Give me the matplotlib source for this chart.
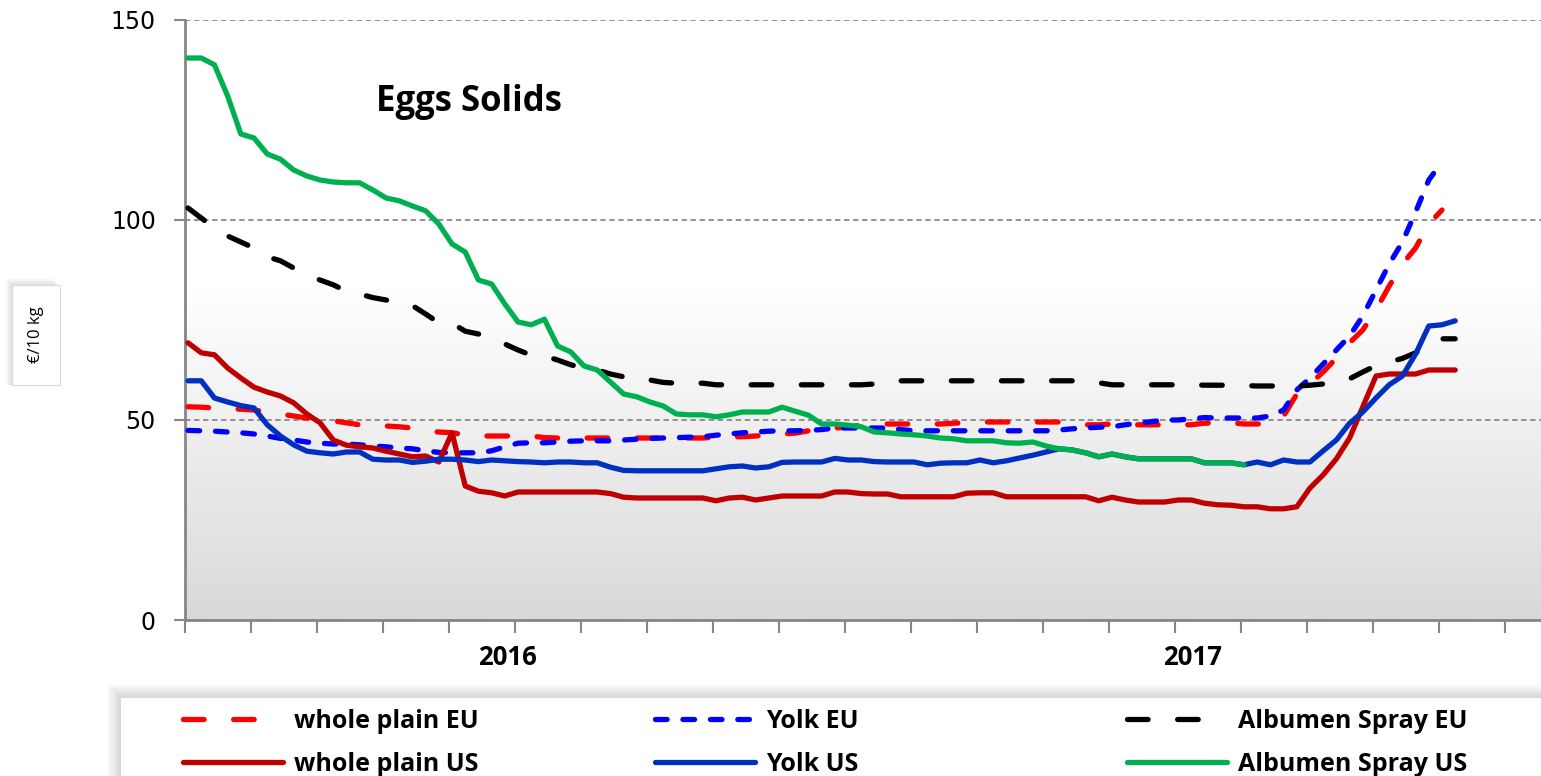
import numpy as np
import matplotlib
matplotlib.use("Agg")
import matplotlib.pyplot as plt
from matplotlib.patches import Rectangle

# weekly prices, EUR per 10 kg
whole_plain_eu = [53.3, 53.2, 53.0, 52.8, 52.7, 52.5, 52.0, 51.5, 51.0, 50.5,
                  50.0, 49.8, 49.3, 48.8, 48.6, 48.5, 48.3, 48.0, 47.2, 47.0,
                  46.8, 46.3, 46.0, 46.0, 46.0, 46.0, 46.0, 45.6, 45.5, 45.5,
                  45.5, 45.5, 45.5, 45.5, 45.5, 45.5, 45.5, 45.5, 45.5, 45.5,
                  45.7, 45.8, 45.8, 46.0, 46.2, 46.5, 46.7, 47.3, 47.9, 48.0,
                  48.2, 48.7, 49.0, 49.0, 49.0, 49.0, 49.0, 49.0, 49.2, 49.3,
                  49.5, 49.5, 49.5, 49.5, 49.5, 49.5, 49.5, 49.2, 48.8, 48.8,
                  49.0, 48.8, 48.8, 48.8, 48.8, 48.8, 48.8, 49.2, 49.3, 49.3,
                  49.0, 49.0, 49.2, 51.0, 56.5, 59.0, 62.0, 65.5, 69.3, 72.5,
                  77.5, 83.5, 89.0, 93.0, 99.0, 102.5]

yolk_eu = [47.4, 47.3, 47.2, 47.0, 46.8, 46.5, 46.0, 45.4, 45.0, 44.5,
           44.2, 44.0, 44.0, 43.8, 43.5, 43.3, 43.0, 42.8, 42.3, 41.9,
           41.8, 41.8, 41.8, 42.3, 43.3, 44.2, 44.3, 44.3, 44.5, 44.7,
           44.8, 44.8, 44.8, 45.0, 45.2, 45.4, 45.5, 45.6, 45.7, 45.8,
           46.2, 46.5, 46.8, 47.0, 47.2, 47.3, 47.3, 47.4, 47.6, 48.0,
           48.0, 48.0, 48.0, 48.0, 47.6, 47.3, 47.3, 47.3, 47.3, 47.3,
           47.3, 47.3, 47.3, 47.3, 47.3, 47.3, 47.5, 47.8, 48.0, 48.2,
           48.3, 48.8, 49.2, 49.6, 50.0, 50.0, 50.3, 50.6, 50.5, 50.5,
           50.5, 50.5, 51.0, 52.5, 57.5, 60.5, 64.0, 67.5, 71.0, 76.0,
           82.5, 89.0, 94.5, 102.0, 110.0, 114.5]

albumen_eu = [103.0, 100.5, 98.0, 96.0, 94.5, 93.0, 90.8, 89.8, 88.0, 86.3,
              85.0, 83.8, 82.2, 81.5, 80.6, 80.0, 79.3, 78.6, 76.5, 74.3,
              74.2, 72.2, 71.5, 70.3, 69.0, 67.5, 66.2, 66.0, 65.0, 63.8,
              63.0, 62.5, 61.5, 60.8, 60.8, 60.0, 59.4, 59.2, 59.2, 59.2,
              58.8, 58.8, 58.8, 58.8, 58.8, 58.8, 58.8, 58.8, 58.8, 58.8,
              58.8, 58.8, 59.0, 59.8, 59.8, 59.8, 59.8, 59.8, 59.8, 59.8,
              59.8, 59.8, 59.8, 59.8, 59.8, 59.8, 59.8, 59.8, 59.8, 59.3,
              58.8, 58.8, 58.8, 58.8, 58.8, 58.8, 58.8, 58.7, 58.7, 58.7,
              58.6, 58.5, 58.5, 58.5, 58.5, 58.7, 59.0, 59.6, 60.3, 62.0,
              63.6, 64.5, 65.4, 66.8, 68.5, 70.3, 70.3]

whole_plain_us = [69.3, 66.8, 66.3, 63.0, 60.5, 58.2, 57.0, 56.0, 54.3, 51.5,
                  49.3, 45.0, 43.7, 43.3, 43.0, 42.2, 41.5, 40.8, 41.0, 39.5,
                  46.8, 33.5, 32.2, 31.8, 31.0, 32.0, 32.0, 32.0, 32.0, 32.0,
                  32.0, 32.0, 31.6, 30.7, 30.5, 30.5, 30.5, 30.5, 30.5, 30.5,
                  29.8, 30.5, 30.7, 30.0, 30.5, 31.0, 31.0, 31.0, 31.0, 32.0,
                  32.0, 31.6, 31.5, 31.5, 30.8, 30.8, 30.8, 30.8, 30.8, 31.7,
                  31.8, 31.8, 30.8, 30.8, 30.8, 30.8, 30.8, 30.8, 30.8, 29.8,
                  30.7, 30.0, 29.5, 29.5, 29.5, 30.0, 30.0, 29.2, 28.8, 28.7,
                  28.3, 28.3, 27.8, 27.8, 28.3, 33.0, 36.3, 40.3, 45.5, 53.3,
                  61.0, 61.5, 61.5, 61.5, 62.5, 62.5, 62.5]

yolk_us = [59.8, 59.8, 55.5, 54.5, 53.6, 53.0, 48.8, 46.0, 43.8, 42.2,
           41.8, 41.5, 42.0, 42.0, 40.2, 40.0, 40.0, 39.4, 39.7, 40.2,
           40.2, 40.0, 39.6, 40.0, 39.8, 39.6, 39.5, 39.3, 39.5, 39.5,
           39.3, 39.3, 38.2, 37.4, 37.3, 37.3, 37.3, 37.3, 37.3, 37.3,
           37.8, 38.3, 38.5, 38.0, 38.3, 39.4, 39.5, 39.5, 39.5, 40.4,
           40.0, 40.0, 39.6, 39.5, 39.5, 39.5, 38.8, 39.2, 39.3, 39.3,
           40.0, 39.3, 39.8, 40.5, 41.2, 42.0, 42.8, 42.5, 41.8, 40.8,
           41.5, 40.8, 40.3, 40.3, 40.3, 40.3, 40.3, 39.3, 39.3, 39.3,
           38.8, 39.5, 38.8, 40.0, 39.5, 39.5, 42.3, 45.0, 49.2, 52.0,
           55.5, 58.8, 61.0, 66.5, 73.5, 73.8, 74.8]

albumen_us = [140.5, 140.5, 138.8, 131.0, 121.5, 120.5, 116.5, 115.2, 112.5, 111.0,
              110.0, 109.5, 109.3, 109.3, 107.5, 105.5, 104.8, 103.5, 102.3, 99.0,
              94.0, 92.0, 85.0, 84.0, 79.0, 74.5, 73.8, 75.2, 68.5, 67.0,
              63.5, 62.5, 59.5, 56.5, 55.8, 54.5, 53.5, 51.5, 51.3, 51.3,
              50.8, 51.3, 52.0, 52.0, 52.0, 53.2, 52.2, 51.2, 49.0, 49.0,
              48.7, 48.3, 47.0, 46.8, 46.5, 46.3, 46.0, 45.5, 45.3, 44.8,
              44.8, 44.8, 44.3, 44.2, 44.5, 43.5, 42.8, 42.5, 41.8, 40.8,
              41.5, 40.8, 40.3, 40.3, 40.3, 40.3, 40.3, 39.3, 39.3, 39.3,
              38.8]

series_labels = ["whole plain EU", "Yolk EU", "Albumen Spray EU",
                 "whole plain US", "Yolk US", "Albumen Spray US"]
year_labels = ["2016", "2017"]
year_label_weeks = [24.2, 76.1]
y_ticks = [0, 50, 100, 150]

TEXT_FONT = ["Open Sans", "DejaVu Sans"]
LW = 3.8


def draw_background(ax, x0, x1):
    # white at the top, fading to light grey towards the axis
    t = np.linspace(0, 1, 300)
    shade = np.where(t < 0.45, 1.0, 1.0 - (t - 0.45) / 0.55 * (38 / 255))
    img = np.repeat(shade[:, None], 2, axis=1)
    rgb = np.dstack([img, img, img])
    ax.imshow(rgb, extent=[x0, x1, 0, 150], aspect="auto", origin="upper",
              zorder=0, interpolation="bilinear")


def shadow_box(fig, x, y, w, h, offsets):
    # soft grey shadow, built from stacked translucent rectangles
    for k in offsets:
        fig.add_artist(Rectangle((x - k / 1541, y), w, h + k / 776,
                                 transform=fig.transFigure, facecolor="#000000",
                                 alpha=0.035, edgecolor="none", zorder=1))
    fig.add_artist(Rectangle((x, y), w, h, transform=fig.transFigure,
                             facecolor="white", edgecolor="#d9d9d9", lw=0.8, zorder=2))


def main():
    fig = plt.figure(figsize=(15.41, 7.76), dpi=100)
    ax = fig.add_axes([185 / 1541, 156 / 776, 1356 / 1541, 600 / 776])

    x_lo, x_hi = -0.23, 102.5
    draw_background(ax, x_lo, x_hi)

    long_dash = (3.9, 5.6)
    short_dash = (2.2, 3.0)
    styles = {
        "whole plain EU": dict(color="#ff0000", dashes=long_dash),
        "whole plain US": dict(color="#c00000"),
        "Yolk EU": dict(color="#0000ff", dashes=short_dash),
        "Yolk US": dict(color="#0030c0"),
        "Albumen Spray EU": dict(color="#000000", dashes=long_dash),
        "Albumen Spray US": dict(color="#00b050"),
    }
    values = {
        "whole plain EU": whole_plain_eu,
        "Yolk EU": yolk_eu,
        "Albumen Spray EU": albumen_eu,
        "whole plain US": whole_plain_us,
        "Yolk US": yolk_us,
        "Albumen Spray US": albumen_us,
    }

    handles = {}
    for i, name in enumerate(series_labels):
        y = values[name]
        x = np.arange(len(y))
        line, = ax.plot(x, y, lw=LW, solid_capstyle="round", dash_capstyle="round",
                        solid_joinstyle="round", zorder=3 + i, label=name, **styles[name])
        handles[name] = line

    ax.set_xlim(x_lo, x_hi)
    ax.set_ylim(0, 150)

    # axes cosmetics
    for side in ["top", "right"]:
        ax.spines[side].set_visible(False)
    for side in ["left", "bottom"]:
        ax.spines[side].set_color("#868686")
        ax.spines[side].set_linewidth(2)
    ax.set_yticks(y_ticks)
    ax.yaxis.grid(True, color="#8a8a8a", linestyle=(0, (3, 2)), lw=1.3)
    ax.set_axisbelow(True)
    ax.tick_params(axis="y", length=8, width=1.5, color="#868686", labelsize=17, pad=13)
    ax.set_xticks(np.arange(21) * 5 + x_lo)
    ax.tick_params(axis="x", length=9, width=1.5, color="#868686", labelbottom=False)

    for lab, wk in zip(year_labels, year_label_weeks):
        ax.text(wk, -0.063, lab, transform=ax.get_xaxis_transform(), ha="center",
                va="center", fontsize=18.5, fontweight="bold", family=TEXT_FONT)

    ax.text(0.2094, 0.863, "Eggs Solids", transform=ax.transAxes, ha="center",
            va="center", fontsize=25, fontweight="bold", family=TEXT_FONT)

    # y label in its own little box
    shadow_box(fig, 12 / 1541, 391 / 776, 48 / 1541, 100 / 776, [2, 4, 6])
    fig.text(36 / 1541, 441 / 776, "€/10 kg", rotation=90, ha="center", va="center",
             fontsize=12, family=TEXT_FONT, zorder=3)

    # legend box at the bottom
    shadow_box(fig, 120 / 1541, -0.01, 1.0, 79 / 776 + 0.01, [3, 6, 9, 12])
    columns = [("whole plain EU", "whole plain US", 183),
               ("Yolk EU", "Yolk US", 655),
               ("Albumen Spray EU", "Albumen Spray US", 1127)]
    for eu, us, px in columns:
        leg = fig.legend([handles[eu], handles[us]], [eu, us], loc="center left",
                         bbox_to_anchor=(px / 1541, 33 / 776), frameon=False,
                         borderpad=0, borderaxespad=0, handlelength=4.0,
                         handletextpad=0.45, labelspacing=0.72,
                         prop={"family": TEXT_FONT, "weight": "bold", "size": 18})
        leg.set_zorder(5)

    fig.savefig("out.png", dpi=100)


main()
